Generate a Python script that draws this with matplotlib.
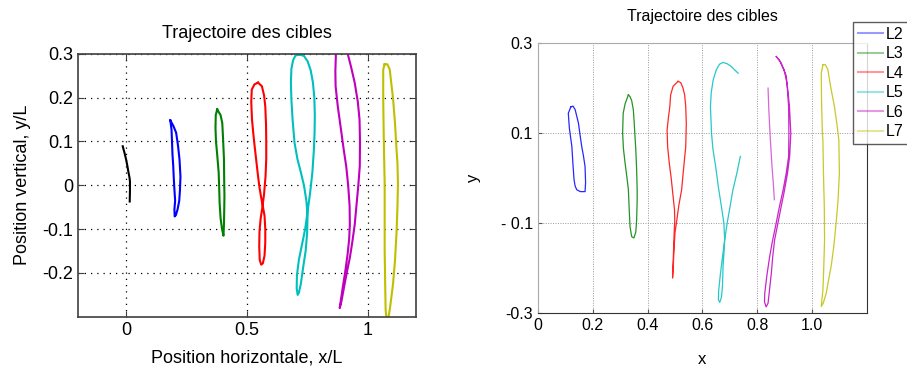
import matplotlib
matplotlib.use("Agg")
import matplotlib.pyplot as plt

# ---- left panel: simulated trajectories (x/L, y/L) ----
left_k_x = [-0.015, -0.008, -0.001, 0.004, 0.008, 0.013, 0.015, 0.015, 0.014]
left_k_y = [0.089, 0.075, 0.059, 0.045, 0.032, 0.018, 0.009, -0.012, -0.037]

left_b_x = [0.182, 0.195, 0.206, 0.214, 0.220, 0.224, 0.222, 0.219, 0.212, 0.205, 0.200,
            0.199, 0.202, 0.199, 0.196, 0.194, 0.191, 0.189, 0.187, 0.182]
left_b_y = [0.148, 0.135, 0.120, 0.090, 0.059, 0.020, -0.010, -0.035, -0.055, -0.068, -0.071,
            -0.055, -0.035, -0.010, 0.020, 0.045, 0.070, 0.100, 0.127, 0.148]

left_g_x = [0.376, 0.390, 0.397, 0.400, 0.404, 0.405, 0.406, 0.405, 0.404, 0.402,
            0.396, 0.390, 0.386, 0.384, 0.382, 0.376, 0.371, 0.369, 0.370, 0.376]
left_g_y = [0.173, 0.160, 0.142, 0.110, 0.060, 0.010, -0.025, -0.060, -0.090, -0.115,
            -0.100, -0.075, -0.040, 0.000, 0.030, 0.070, 0.100, 0.130, 0.160, 0.173]

left_r_x = [0.545, 0.530, 0.519, 0.517, 0.520, 0.526, 0.531, 0.538, 0.545, 0.551, 0.558, 0.565,
            0.572, 0.575, 0.575, 0.572, 0.565, 0.558, 0.552, 0.550, 0.551, 0.556, 0.563, 0.570,
            0.576, 0.579, 0.579, 0.578, 0.575, 0.570, 0.561, 0.545]
left_r_y = [0.234, 0.230, 0.218, 0.190, 0.150, 0.115, 0.089, 0.055, 0.021, -0.005, -0.028, -0.048,
            -0.070, -0.100, -0.130, -0.160, -0.178, -0.181, -0.170, -0.140, -0.105, -0.075, -0.050, -0.020,
            0.020, 0.060, 0.100, 0.140, 0.180, 0.205, 0.226, 0.234]

left_c_x = [0.717, 0.700, 0.690, 0.683, 0.681, 0.683, 0.688, 0.696, 0.708, 0.722, 0.735, 0.745,
            0.750, 0.748, 0.742, 0.731, 0.722, 0.714, 0.709, 0.705, 0.706, 0.714, 0.727, 0.740,
            0.750, 0.760, 0.770, 0.776, 0.779, 0.780, 0.778, 0.772, 0.763, 0.750, 0.735, 0.717]
left_c_y = [0.298, 0.296, 0.285, 0.265, 0.235, 0.196, 0.150, 0.097, 0.060, 0.030, 0.000, -0.035,
            -0.070, -0.110, -0.150, -0.190, -0.225, -0.245, -0.250, -0.235, -0.205, -0.170, -0.135, -0.100,
            -0.060, -0.020, 0.030, 0.080, 0.120, 0.160, 0.200, 0.235, 0.262, 0.283, 0.295, 0.298]

left_m_x = [0.866, 0.867, 0.865, 0.866, 0.875, 0.890, 0.900, 0.910, 0.918, 0.924, 0.925, 0.922,
            0.915, 0.905, 0.895, 0.888, 0.883, 0.890, 0.900, 0.912, 0.925, 0.935, 0.945, 0.952,
            0.960, 0.966, 0.967, 0.965, 0.958, 0.945, 0.930, 0.917, 0.910]
left_m_y = [0.320, 0.295, 0.260, 0.226, 0.180, 0.120, 0.080, 0.043, 0.000, -0.048, -0.090, -0.124,
            -0.160, -0.200, -0.235, -0.261, -0.280, -0.265, -0.235, -0.200, -0.165, -0.130, -0.090, -0.048,
            0.000, 0.043, 0.100, 0.150, 0.190, 0.234, 0.270, 0.298, 0.320]

left_y_x = [1.069, 1.063, 1.063, 1.065, 1.067, 1.069, 1.069, 1.069, 1.071, 1.073, 1.078, 1.085,
            1.090, 1.098, 1.104, 1.112, 1.118, 1.122, 1.124, 1.122, 1.118, 1.112, 1.104, 1.096,
            1.090, 1.080, 1.069]
left_y_y = [0.276, 0.264, 0.200, 0.120, 0.060, 0.005, -0.080, -0.147, -0.220, -0.284, -0.310, -0.300,
            -0.284, -0.250, -0.223, -0.170, -0.109, -0.050, 0.005, 0.050, 0.082, 0.140, 0.196, 0.235,
            0.264, 0.276, 0.276]

# ---- right panel: measured trajectories L2..L7 ----
right_l2_x = [0.120, 0.111, 0.115, 0.124, 0.128, 0.132, 0.136, 0.142, 0.155, 0.172, 0.174,
              0.172, 0.166, 0.160, 0.154, 0.148, 0.136, 0.128, 0.120]
right_l2_y = [0.158, 0.144, 0.110, 0.070, 0.030, -0.004, -0.018, -0.026, -0.030, -0.030, -0.010,
              0.026, 0.050, 0.070, 0.095, 0.122, 0.152, 0.160, 0.158]

right_l3_x = [0.330, 0.318, 0.311, 0.309, 0.312, 0.318, 0.325, 0.330, 0.333, 0.336, 0.342, 0.350,
              0.357, 0.360, 0.362, 0.362, 0.360, 0.357, 0.354, 0.351, 0.348, 0.342, 0.336, 0.330]
right_l3_y = [0.185, 0.165, 0.144, 0.100, 0.065, 0.033, 0.000, -0.026, -0.070, -0.108, -0.130, -0.133,
              -0.120, -0.093, -0.050, -0.026, 0.020, 0.063, 0.093, 0.125, 0.152, 0.172, 0.181, 0.185]

right_l4_x = [0.511, 0.493, 0.484, 0.481, 0.476, 0.471, 0.473, 0.479, 0.486, 0.493, 0.498, 0.499,
              0.497, 0.495, 0.493, 0.491, 0.494, 0.497, 0.500, 0.505, 0.514, 0.524, 0.531, 0.539,
              0.541, 0.539, 0.535, 0.529, 0.521, 0.511]
right_l4_y = [0.215, 0.204, 0.185, 0.159, 0.135, 0.107, 0.070, 0.033, 0.000, -0.041, -0.070, -0.093,
              -0.120, -0.152, -0.190, -0.222, -0.190, -0.150, -0.120, -0.100, -0.060, -0.026, 0.020, 0.070,
              0.120, 0.159, 0.185, 0.200, 0.212, 0.215]

right_l5_x = [0.738, 0.725, 0.711, 0.700, 0.690, 0.681, 0.673, 0.665, 0.659, 0.658, 0.663, 0.669,
              0.673, 0.675, 0.679, 0.681, 0.678, 0.669, 0.658, 0.648, 0.638, 0.633, 0.629, 0.632,
              0.639, 0.650, 0.662, 0.675, 0.690, 0.705, 0.718, 0.730]
right_l5_y = [0.048, 0.010, -0.026, -0.065, -0.100, -0.137, -0.175, -0.215, -0.250, -0.270, -0.276, -0.265,
              -0.240, -0.196, -0.160, -0.137, -0.100, -0.063, -0.020, 0.026, 0.065, 0.100, 0.159, 0.190,
              0.218, 0.240, 0.253, 0.257, 0.254, 0.248, 0.240, 0.233]

right_l6_x = [0.869, 0.880, 0.893, 0.905, 0.912, 0.917, 0.922, 0.918, 0.910, 0.898, 0.887, 0.875,
              0.863, 0.856, 0.851, 0.845, 0.839, 0.832, 0.826, 0.827, 0.835, 0.845, 0.855, 0.866,
              0.880, 0.894, 0.905, 0.914, 0.915, 0.914, 0.908, 0.898, 0.885, 0.869]
right_l6_y = [0.270, 0.262, 0.245, 0.228, 0.190, 0.159, 0.100, 0.050, 0.011, -0.030, -0.063, -0.100,
              -0.137, -0.175, -0.211, -0.245, -0.278, -0.286, -0.275, -0.256, -0.215, -0.174, -0.140, -0.108,
              -0.065, -0.026, 0.010, 0.048, 0.100, 0.159, 0.210, 0.240, 0.258, 0.270]
right_l6b_x = [0.839, 0.842, 0.847, 0.853, 0.858, 0.862]
right_l6b_y = [0.200, 0.150, 0.090, 0.030, -0.010, -0.048]

right_l7_x = [1.039, 1.033, 1.034, 1.037, 1.039, 1.041, 1.044, 1.045, 1.042, 1.039, 1.033, 1.040,
              1.051, 1.060, 1.069, 1.079, 1.087, 1.094, 1.099, 1.098, 1.097, 1.090, 1.081, 1.068,
              1.057, 1.048, 1.039]
right_l7_y = [0.252, 0.233, 0.170, 0.100, 0.085, 0.010, -0.063, -0.137, -0.200, -0.248, -0.285, -0.278,
              -0.256, -0.225, -0.196, -0.150, -0.100, -0.050, 0.011, 0.050, 0.085, 0.120, 0.159, 0.200,
              0.241, 0.252, 0.252]

legend_labels = ["L2", "L3", "L4", "L5", "L6", "L7"]
left_xticks = [0, 0.5, 1]
left_xticklabels = ["0", "0.5", "1"]
left_yticks = [-0.2, -0.1, 0, 0.1, 0.2, 0.3]
left_yticklabels = ["-0.2", "-0.1", "0", "0.1", "0.2", "0.3"]
right_xticks = [0, 0.2, 0.4, 0.6, 0.8, 1.0]
right_xticklabels = ["0", "0.2", "0.4", "0.6", "0.8", "1.0"]
right_yticks = [-0.3, -0.1, 0.1, 0.3]
right_yticklabels = ["-0.3", "- 0.1", "0.1", "0.3"]

mat_colors = ["#0000ff", "#008000", "#ff0000", "#00bfbf", "#bf00bf", "#bfbf00"]

plt.rcParams['font.family'] = ['Liberation Sans', 'DejaVu Sans']

fig = plt.figure(figsize=(9.07, 3.68), dpi=100)

# left panel
ax1 = fig.add_axes([0.086, 0.139, 0.373, 0.715])
ax1.plot(left_k_x, left_k_y, color="black", lw=1.5)
left_curves = [(left_b_x, left_b_y), (left_g_x, left_g_y), (left_r_x, left_r_y),
               (left_c_x, left_c_y), (left_m_x, left_m_y), (left_y_x, left_y_y)]
for (xs, ys), col in zip(left_curves, mat_colors):
    ax1.plot(xs, ys, color=col, lw=1.5)
ax1.set_xlim(-0.2, 1.2)
ax1.set_ylim(-0.3, 0.3)
ax1.set_xticks(left_xticks)
ax1.set_xticklabels(left_xticklabels)
ax1.set_yticks(left_yticks)
ax1.set_yticklabels(left_yticklabels)
ax1.grid(True, linestyle=(0, (1, 4)), color="black", lw=0.9)
ax1.tick_params(direction="in", length=4, labelsize=13, top=True, right=True, color="#404040")
for s in ax1.spines.values():
    s.set_color("#404040")
    s.set_linewidth(1.2)
ax1.set_title("Trajectoire des cibles", fontsize=13, pad=11)
ax1.set_xlabel("Position horizontale, x/L", fontsize=13, labelpad=8)
ax1.set_ylabel("Position vertical, y/L", fontsize=13, labelpad=8)

# right panel
ax2 = fig.add_axes([0.593, 0.149, 0.363, 0.734])
right_curves = [(right_l2_x, right_l2_y), (right_l3_x, right_l3_y), (right_l4_x, right_l4_y),
                (right_l5_x, right_l5_y), (right_l6_x, right_l6_y), (right_l7_x, right_l7_y)]
handles = []
for (xs, ys), col, lab in zip(right_curves, mat_colors, legend_labels):
    ax2.plot(xs, ys, color=col, lw=0.9, alpha=0.85)
    h, = ax2.plot([], [], color=col, lw=1.5, alpha=0.4, label=lab)
    handles.append(h)
ax2.plot(right_l6b_x, right_l6b_y, color=mat_colors[4], lw=0.9, alpha=0.6)
ax2.set_xlim(0, 1.2)
ax2.set_ylim(-0.3, 0.3)
ax2.set_xticks(right_xticks)
ax2.set_xticklabels(right_xticklabels)
ax2.set_yticks(right_yticks)
ax2.set_yticklabels(right_yticklabels)
ax2.grid(True, linestyle=(0, (1, 1.5)), color="#999999", lw=0.7)
ax2.tick_params(direction="in", length=3, labelsize=11.5, color="#555555")
ax2.spines["left"].set_color("#aaaaaa")
ax2.spines["top"].set_color("#aaaaaa")
ax2.spines["bottom"].set_color("#333333")
ax2.spines["right"].set_color("#333333")
ax2.set_title("Trajectoire des cibles", fontsize=11.5, pad=16)
ax2.set_xlabel("x", fontsize=12, labelpad=14)
ax2.set_ylabel("y", fontsize=12, labelpad=14)

fig.legend(handles=handles, loc="upper left", bbox_to_anchor=(853 / 907, 1 - 22 / 368),
           fontsize=11.5, frameon=True, fancybox=False, edgecolor="#333333",
           handlelength=1.6, handletextpad=0.15, labelspacing=0.28, borderpad=0.3,
           borderaxespad=0.0)

fig.savefig("out.png", dpi=100)
